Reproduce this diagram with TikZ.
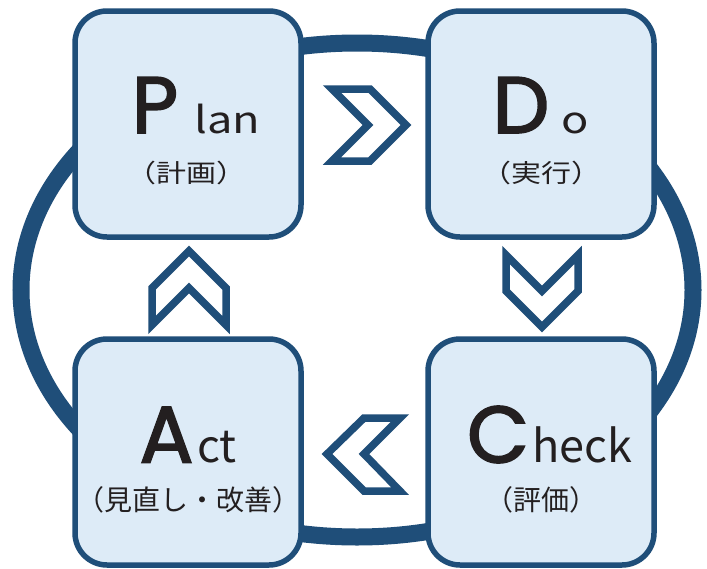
\documentclass[tikz,border=0pt]{standalone}
\usepackage{fontspec}
\newfontfamily\bigf[FakeBold=2.2]{Poppins}
\newfontfamily\jpf{Noto Sans CJK JP}
\definecolor{dkblue}{HTML}{1F4E79}
\definecolor{ltblue}{HTML}{DDEBF7}
\definecolor{ink}{HTML}{231F20}
\tikzset{
  stagebox/.style={draw=dkblue, line width=5.5pt, fill=ltblue, rounded corners=32pt,
    minimum width=226pt, minimum height=226pt, inner sep=0pt},
  chev/.style={draw=dkblue, line width=7.5pt, line join=miter, fill=white},
  bigletter/.style={anchor=base, inner sep=0pt, text=ink, font=\bigf\fontsize{80}{80}\selectfont},
  smalltop/.style={anchor=base west, inner sep=0pt, text=ink, font=\jpf\fontsize{37}{37}\selectfont, xscale=1.22},
  smallbot/.style={anchor=base west, inner sep=0pt, text=ink, font=\jpf\fontsize{45}{45}\selectfont},
  jptop/.style={anchor=base, inner sep=0pt, text=ink, font=\jpf\fontsize{25}{25}\selectfont, xscale=1.2},
  jpbot/.style={anchor=base, inner sep=0pt, text=ink, font=\jpf\fontsize{28}{28}\selectfont},
}
\begin{document}
\begin{tikzpicture}[x=1pt, y=-1pt]
\useasboundingbox[fill=white] (0,0) rectangle (707,568);
% ring
\draw[dkblue, line width=17pt] (357,290) ellipse [x radius=336pt, y radius=247pt];
% boxes
\node[stagebox] (plan)  at (188,124) {};
\node[stagebox] (do)    at (541,124) {};
\node[stagebox] (check) at (541,452) {};
\node[stagebox] (act)   at (188,452) {};
% chevrons
\draw[chev] (332,89) -- (370,89) -- (406,125) -- (370,161) -- (332,161) -- (368,125) -- cycle;
\draw[chev] (506,255) -- (542,291) -- (578,255) -- (578,291) -- (542,327) -- (506,291) -- cycle;
\draw[chev] (327,454) -- (364,418) -- (400,418) -- (364,454) -- (400,491) -- (364,491) -- cycle;
\draw[chev] (152,288) -- (189,251) -- (226,288) -- (226,325) -- (189,288) -- (152,325) -- cycle;
% texts
\node[bigletter] (pP) at (155,133) {P};
\node[smalltop]  (pS) at (194,133) {lan};
\node[jptop]     (pJ) at (186,182) {（計画）};
\node[bigletter] (dD) at (521,133) {D};
\node[smalltop]  (dS) at (561,133) {o};
\node[jptop]     (dJ) at (541,182) {（実行）};
\node[bigletter] (cC) at (498,462.5) {C};
\node[smallbot]  (cS) at (532,462.5) {heck};
\node[jpbot]     (cJ) at (541,510) {（評価）};
\node[bigletter] (aA) at (166.5,462.5) {A};
\node[smallbot]  (aS) at (197,462.5) {ct};
\node[jpbot]     (aJ) at (188,510) {（見直し・改善）};
\end{tikzpicture}
\end{document}
